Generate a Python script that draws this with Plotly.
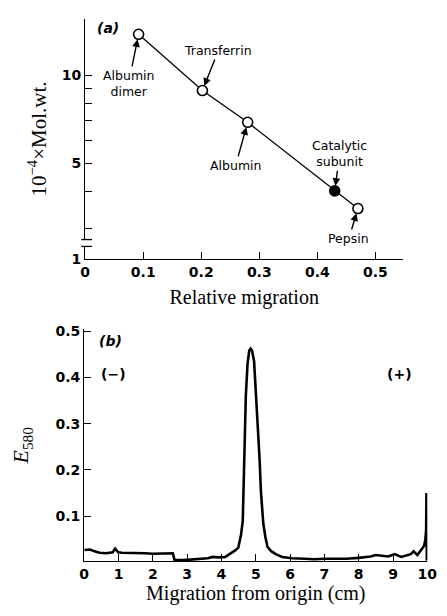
import numpy as np
import plotly.graph_objects as go

# ---------------- Data: panel (a) ----------------
proteins = ["Albumin<br>dimer", "Transferrin", "Albumin", "Catalytic<br>subunit", "Pepsin"]
rel_migration = [0.092, 0.202, 0.280, 0.430, 0.470]
mol_wt = [13.8, 8.86, 6.9, 4.02, 3.5]          # 10^-4 x Mol.wt.
filled = [False, False, False, True, False]
label_dx = [-10, 16, -12, 5, -9]                 # label offset (px) from point
label_dy = [49, -40, 43, -37, 30]

a_xticks = [0, 0.1, 0.2, 0.3, 0.4, 0.5]
a_xticktext = ["0", "0.1", "0.2", "0.3", "0.4", "0.5"]
a_yticks = [2.35, 5, 10]
a_yticktext = ["1", "5", "10"]
a_yminor = [3, 4, 6, 7, 8, 9]

# ---------------- Data: panel (b) ----------------
migration_cm = [0.0, 0.1, 0.17, 0.3, 0.45, 0.64, 0.83, 0.9, 0.99, 1.1, 1.3, 1.55, 1.77, 2.0,
                2.23, 2.45, 2.58, 2.63, 2.70, 2.9, 3.17, 3.46, 3.6, 3.74, 3.92, 4.11, 4.30,
                4.40, 4.49, 4.53, 4.57, 4.62, 4.67, 4.71, 4.76, 4.81, 4.85, 4.89, 4.95, 5.01,
                5.06, 5.11, 5.15, 5.22, 5.28, 5.34, 5.44, 5.58, 5.77, 6.05, 6.42, 6.7, 6.99,
                7.3, 7.64, 8.0, 8.21, 8.35, 8.49, 8.7, 8.86, 9.05, 9.24, 9.43, 9.52, 9.60,
                9.71, 9.85, 9.90, 9.94, 9.965, 9.975, 9.985]
e580 = [0.027, 0.028, 0.028, 0.024, 0.021, 0.020, 0.022, 0.030, 0.022, 0.021, 0.021, 0.020,
        0.020, 0.019, 0.020, 0.020, 0.020, 0.006, 0.005, 0.005, 0.006, 0.007, 0.009, 0.012,
        0.011, 0.012, 0.020, 0.026, 0.032, 0.045, 0.060, 0.090, 0.220, 0.360, 0.430, 0.458,
        0.462, 0.458, 0.435, 0.365, 0.294, 0.224, 0.153, 0.083, 0.055, 0.034, 0.025, 0.018,
        0.012, 0.009, 0.008, 0.007, 0.008, 0.008, 0.008, 0.010, 0.011, 0.013, 0.016, 0.014,
        0.013, 0.018, 0.012, 0.016, 0.018, 0.024, 0.016, 0.030, 0.035, 0.048, 0.070, 0.150,
        0.004]

b_xticks = list(range(0, 11))
b_yticks = [0.1, 0.2, 0.3, 0.4, 0.5]
b_yticktext = ["0.1", "0.2", "0.3", "0.4", "0.5"]

W, H = 447, 616
def px(x):
    return x / W
def py(y):
    return 1 - y / H

tickfont = dict(family="DejaVu Sans", size=14, color="black", weight="bold")
labfont = dict(family="DejaVu Sans", size=12.5, color="black")
serif = "Liberation Serif"

fig = go.Figure()

# panel (a) line
fig.add_trace(go.Scatter(x=rel_migration, y=mol_wt, mode="lines",
                         line=dict(color="black", width=1.3),
                         xaxis="x", yaxis="y", showlegend=False, hoverinfo="skip"))
# panel (a) markers
fig.add_trace(go.Scatter(x=rel_migration, y=mol_wt, mode="markers",
                         marker=dict(size=10, color=["black" if f else "white" for f in filled],
                                     line=dict(color="black", width=1.6)),
                         xaxis="x", yaxis="y", showlegend=False))

# panel (b) trace
fig.add_trace(go.Scatter(x=migration_cm, y=e580, mode="lines",
                         line=dict(color="black", width=2.6),
                         xaxis="x2", yaxis="y2", showlegend=False))

axis_common = dict(showline=True, linecolor="black", linewidth=1.3, ticks="inside",
                   ticklen=7, tickwidth=1.3, tickcolor="black", showgrid=False,
                   zeroline=False, tickfont=tickfont, fixedrange=True)

def ttl(text, size, standoff):
    return dict(text=text, standoff=standoff,
                font=dict(family=serif, size=size, color="black"))

fig.update_layout(
    width=W, height=H, margin=dict(l=0, r=0, t=0, b=0),
    paper_bgcolor="white", plot_bgcolor="white",
    xaxis=dict(domain=[px(83), px(412)], range=[0, 0.548], anchor="y",
               tickvals=a_xticks, ticktext=a_xticktext,
               title=ttl("Relative migration", 20, 10), **axis_common),
    yaxis=dict(domain=[py(259), py(13)], type="log",
               range=[np.log10(2.35), np.log10(15.6)], anchor="x",
               tickvals=a_yticks, ticktext=a_yticktext,
               title=ttl("10<sup>−4</sup>×Mol.wt.", 21, 9),
               minor=dict(tickvals=a_yminor, ticks="inside", ticklen=7, tickwidth=1.3,
                          tickcolor="black", showgrid=False),
               **axis_common),
    xaxis2=dict(domain=[px(82), px(437)], range=[0, 10], anchor="y2",
                tickvals=b_xticks,
                title=ttl("Migration from origin (cm)", 20, 2), **axis_common),
    yaxis2=dict(domain=[py(568), py(331)], range=[0.003, 0.5036], anchor="x2",
                tickvals=b_yticks, ticktext=b_yticktext,
                title=ttl("<i>E</i><sub>580</sub>", 22, 20), **axis_common),
)

# labels with arrows in panel (a)
for name, xv, yv, dx, dy in zip(proteins, rel_migration, mol_wt, label_dx, label_dy):
    fig.add_annotation(x=xv, y=np.log10(yv), xref="x", yref="y", text=name,
                       showarrow=True, ax=dx, ay=dy, arrowhead=2, arrowsize=1.1,
                       arrowwidth=1.4, arrowcolor="black", standoff=5,
                       font=labfont, align="center")

def txt(x, y, text, size=14, family="DejaVu Sans", angle=0, **kw):
    fig.add_annotation(x=px(x), y=py(y), xref="paper", yref="paper", text=text,
                       showarrow=False, textangle=angle,
                       font=dict(family=family, size=size, color="black", **kw),
                       xanchor="center", yanchor="middle")

txt(107, 23, "(a)", size=14, style="italic", weight="bold")
txt(109, 343, "(b)", size=14, style="italic", weight="bold")
txt(112, 377, "(−)", size=14, weight="bold")
txt(408, 377, "(+)", size=14, weight="bold")

# axis break on panel (a) y axis
fig.add_shape(type="line", xref="paper", yref="paper", x0=px(83), x1=px(83),
              y0=py(246), y1=py(239.5), line=dict(color="white", width=3))
for yy in (239, 246):
    fig.add_shape(type="line", xref="paper", yref="paper", x0=px(79), x1=px(90),
                  y0=py(yy), y1=py(yy), line=dict(color="black", width=1.3))

fig.write_html("out.html")
